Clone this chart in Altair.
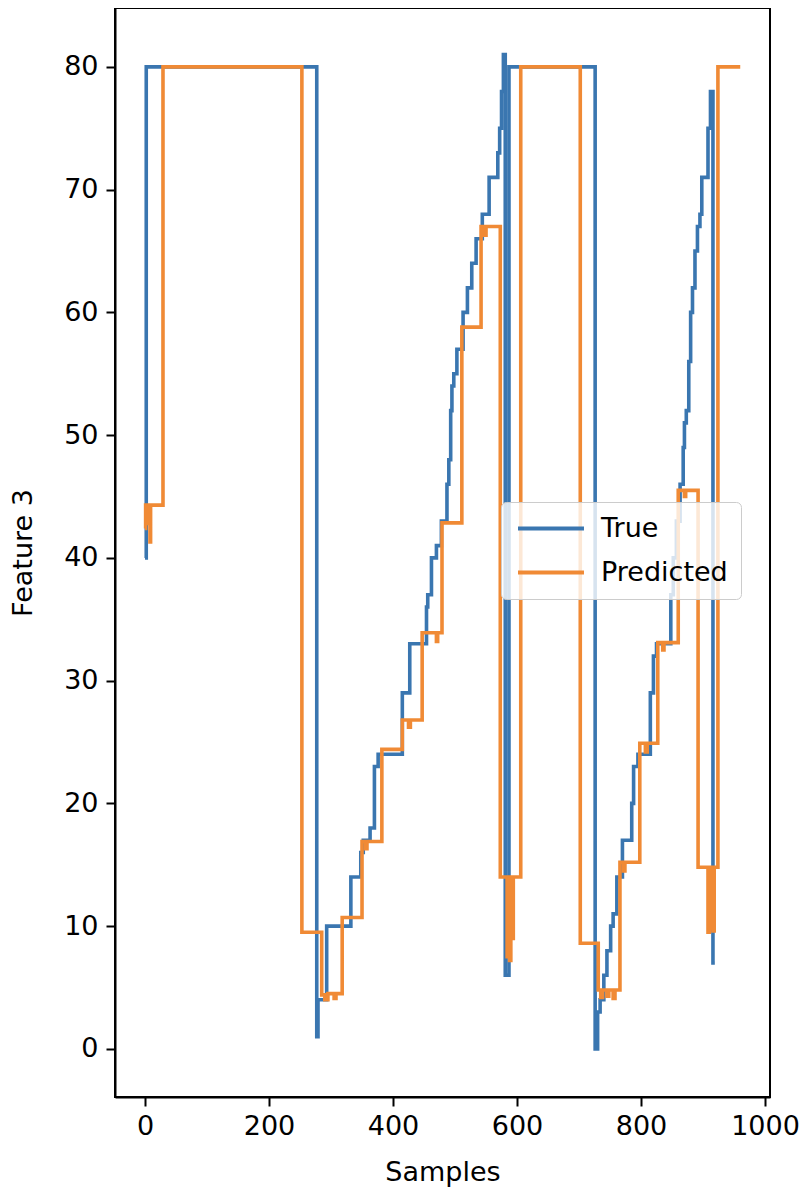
import altair as alt
import pandas as pd

# True series (step change points: sample index, value)
true_x = [0, 2, 277, 279, 293, 332, 348, 352, 363, 370, 376, 415, 427, 454, 456, 462, 470, 478,
          487, 490, 493, 495, 498, 503, 513, 520, 527, 534, 544, 555, 569, 572, 575, 578, 581, 587,
          726, 730, 734, 740, 745, 751, 755, 761, 770, 785, 788, 795, 815, 820, 825, 848, 852, 857,
          863, 868, 870, 873, 877, 880, 883, 887, 891, 895, 898, 908, 912, 916, 919]
true_y = [40, 80, 1, 4, 10, 14, 16, 17, 18, 23, 24, 29, 33, 36, 37, 40, 41, 43,
          46, 48, 52, 54, 55, 57, 60, 62, 64, 66, 68, 71, 73, 75, 78, 81, 6, 80,
          0, 3, 4, 6, 8, 10, 11, 14, 17, 20, 23, 24, 29, 32, 33, 37, 40, 43,
          46, 49, 51, 52, 56, 60, 62, 65, 67, 68, 71, 75, 78, 7, 7]

# Predicted series (step change points)
pred_x = [0, 1, 3, 5, 8, 9, 29, 253, 285, 290, 295, 305, 308, 318, 350, 356, 358, 382, 415, 425,
          428, 447, 470, 472, 479, 511, 542, 547, 550, 573, 584, 586, 588, 590, 592, 594, 606,
          702, 731, 735, 738, 745, 748, 755, 758, 766, 772, 774, 798, 807, 810, 827, 835, 837,
          860, 870, 872, 892, 908, 910, 912, 914, 916, 918, 924, 960]
pred_y = [42.4, 44.3, 42.8, 44.3, 41.3, 44.3, 80, 9.5, 4.4, 4.0, 4.5, 4.1, 4.5, 10.7, 16.9, 16.3,
          16.9, 24.4, 26.8, 26.2, 26.8, 33.9, 33.2, 33.9, 42.85, 58.8, 67.0, 66.3, 67.0, 14.0, 7.5,
          14.0, 7.2, 14.0, 9.0, 14.0, 80, 8.6, 4.8, 4.2, 4.8, 4.3, 4.8, 4.1, 4.8, 15.2, 14.5, 15.2,
          24.9, 24.2, 24.9, 33.1, 32.5, 33.1, 45.5, 45.0, 45.5, 14.8, 9.5, 14.8, 9.8, 14.8, 9.6,
          14.8, 80, 80]

x_ticks = [0, 200, 400, 600, 800, 1000]
y_ticks = [0, 10, 20, 30, 40, 50, 60, 70, 80]

series_names = ["True", "Predicted"]
series_colors = ["#3a76b0", "#f08a35"]

df_true = pd.DataFrame({"x": true_x, "y": true_y})
df_pred = pd.DataFrame({"x": pred_x, "y": pred_y})

FONT = "DejaVu Sans"
FS = 27

xscale = alt.Scale(domain=[-48.4, 1008], nice=False, zero=False)
yscale = alt.Scale(domain=[-3.92, 84.8], nice=False, zero=False)
cscale = alt.Scale(domain=series_names, range=series_colors)

axis_common = dict(grid=False, tickSize=9, tickWidth=2, domainWidth=2,
                   tickColor="black", domainColor="black", labelColor="black",
                   labelFontSize=FS, titleFontSize=FS, titleFontWeight="normal",
                   labelFont=FONT, titleFont=FONT, titleColor="black",
                   labelFlush=False, format="d")

xaxis = alt.Axis(title="Samples", values=x_ticks, labelPadding=7, titlePadding=20, **axis_common)
yaxis = alt.Axis(title="Feature 3", values=y_ticks, labelPadding=8, titlePadding=26, **axis_common)

legend = alt.Legend(title=None, orient="none", legendX=386, legendY=494,
                    symbolType="M-1.46,0H8.69", symbolSize=169, symbolStrokeWidth=4,
                    labelFontSize=FS, labelFont=FONT, labelColor="black",
                    labelOffset=60, rowPadding=16,
                    strokeColor="#cccccc", fillColor="rgba(255,255,255,0.8)",
                    padding=13, cornerRadius=5)

line_true = alt.Chart(df_true).mark_line(interpolate="step-after", strokeWidth=3.6, clip=True).encode(
    x=alt.X("x:Q", scale=xscale, axis=xaxis),
    y=alt.Y("y:Q", scale=yscale, axis=yaxis),
    color=alt.Color("s:N", scale=cscale, legend=legend),
).transform_calculate(s="'True'")

line_pred = alt.Chart(df_pred).mark_line(interpolate="step-after", strokeWidth=3.6, clip=True).encode(
    x=alt.X("x:Q", scale=xscale, axis=xaxis),
    y=alt.Y("y:Q", scale=yscale, axis=yaxis),
    color=alt.Color("s:N", scale=cscale, legend=legend),
).transform_calculate(s="'Predicted'")

chart = alt.layer(line_true, line_pred).properties(
    width=655, height=1089,
    autosize=alt.AutoSizeParams(type="none"),
    padding={"left": 107, "top": 0, "right": 29, "bottom": 90},
    background="white",
).configure_view(stroke="black", strokeWidth=2)

chart.save("out.html", embed_options={"renderer": "svg", "actions": False})
